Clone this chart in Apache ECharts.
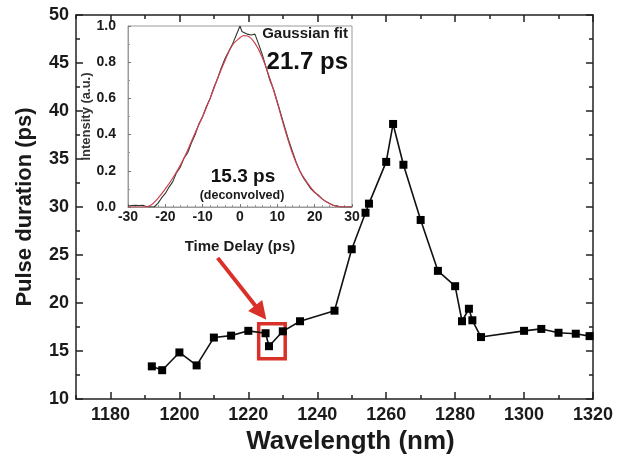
<!DOCTYPE html>
<html>
<head>
<meta charset="utf-8">
<script src="https://cdn.jsdelivr.net/npm/echarts@6/dist/echarts.min.js"></script>
<style>
html,body{margin:0;padding:0;background:#fff;}
#chart{width:621px;height:461px;}
</style>
</head>
<body>
<div id="chart"></div>
<script>
// ---- main data: pulse duration vs wavelength ----
var wavelength = [1192,1195,1200,1205,1210,1215,1220,1225,1226,1230,1235,1245,1250,1254,1255,1260,1262,1265,1270,1275,1280,1282,1284,1285,1287.5,1300,1305,1310,1315,1319];
var duration   = [13.4,13.0,14.85,13.5,16.4,16.6,17.1,16.85,15.5,17.05,18.1,19.2,25.6,29.4,30.35,34.7,38.65,34.4,28.65,23.35,21.75,18.1,19.4,18.2,16.45,17.1,17.3,16.9,16.8,16.55];
var xMajorTicks = [1180,1200,1220,1240,1260,1280,1300,1320];
var xMinorTicks = [1170,1190,1210,1230,1250,1270,1290,1310];

// ---- inset: autocorrelation trace ----
var measT = [-30,-29,-28,-27,-26,-25,-24,-23,-22,-21,-20,-19,-18,-17,-16,-15,-14,-13,-12,-11,-10,-9,-8,-7,-6,-5,-4,-3,-2,-1,0,0.5,1,2,3,4,5,6,7,8,9,10,11,12,13,14,15,16,17,18,19,20,21,22,23,24,25,26,27,28,29,30];
var measI = [0.005,0.008,0.01,0.008,0.01,0.002,0,0,0.02,0.05,0.075,0.11,0.14,0.19,0.22,0.27,0.30,0.355,0.40,0.46,0.50,0.555,0.60,0.66,0.71,0.77,0.82,0.86,0.90,0.95,1.0,0.97,0.96,0.955,0.95,0.955,0.90,0.84,0.77,0.70,0.65,0.58,0.51,0.44,0.37,0.31,0.25,0.20,0.16,0.13,0.10,0.08,0.065,0.045,0.03,0.02,0.01,0.005,0,0,0,0];
var fitT = [-30,-28,-26,-24,-22,-20,-18,-16,-14,-12,-10,-8,-6,-4,-2,0,1,2,4,6,8,10,12,14,16,18,20,22,24,26,28,30];
var fitI = [0,0,0,0.008,0.048,0.10,0.16,0.23,0.315,0.41,0.50,0.60,0.71,0.81,0.895,0.935,0.947,0.945,0.905,0.825,0.71,0.575,0.43,0.30,0.20,0.135,0.082,0.045,0.018,0.004,0,0];

// ---- annotation (data coordinates) ----
var boxCorners = [[1223.0,17.85],[1230.7,14.2]];
var arrowEnds = [[1211.1,24.7],[1223.6,19.0]];

function zip(a,b){var r=[];for(var i=0;i<a.length;i++)r.push([a[i],b[i]]);return r;}

var FF = '"Liberation Sans", Arial, sans-serif';
var AX = '#222';
var RED = '#d9302a';

var chart = echarts.init(document.getElementById('chart'), null, {renderer:'canvas'});
var option = {
  animation:false,
  backgroundColor:'#fff',
  textStyle:{fontFamily:FF},
  grid:[
    {left:76, top:15, width:517, height:384, show:false},
    {left:128, top:26, width:224, height:181, show:true, borderColor:'#9a9a9a', borderWidth:1, backgroundColor:'#fff', z:3},
    {left:76, top:15, width:517, height:384, show:false}
  ],
  xAxis:[
    {gridIndex:0, type:'value', min:1170, max:1320, position:'bottom',
     axisLine:{onZero:false,lineStyle:{color:AX,width:1.5}},
     axisTick:{inside:true,length:7,customValues:xMajorTicks,lineStyle:{color:AX,width:1.5}},
     axisLabel:{customValues:xMajorTicks,fontSize:18,fontWeight:'bold',color:'#1a1a1a',margin:7,fontFamily:FF,
       formatter:function(v){return String(v);}},
     splitLine:{show:false},
     name:'Wavelength (nm)', nameLocation:'middle', nameGap:29,
     nameTextStyle:{fontSize:26,fontWeight:'bold',color:'#1a1a1a',fontFamily:FF,padding:[0,0,0,32]}},
    {gridIndex:0, type:'value', min:1170, max:1320, position:'top',
     axisLine:{onZero:false,lineStyle:{color:AX,width:1.5}},
     axisTick:{inside:true,length:7,customValues:xMajorTicks,lineStyle:{color:AX,width:1.5}},
     axisLabel:{show:false}, splitLine:{show:false}},
    {gridIndex:2, type:'value', min:1170, max:1320, position:'bottom',
     axisLine:{show:false,onZero:false},
     axisTick:{inside:true,length:4,customValues:xMinorTicks,lineStyle:{color:AX,width:1.5}},
     axisLabel:{show:false}, splitLine:{show:false}},
    {gridIndex:2, type:'value', min:1170, max:1320, position:'top',
     axisLine:{show:false,onZero:false},
     axisTick:{inside:true,length:4,customValues:xMinorTicks,lineStyle:{color:AX,width:1.5}},
     axisLabel:{show:false}, splitLine:{show:false}},
    {gridIndex:1, type:'value', min:-30, max:30, interval:10, position:'bottom', z:4,
     axisLine:{onZero:false,lineStyle:{color:'#9a9a9a',width:1}},
     axisTick:{inside:true,length:3,lineStyle:{color:'#777'}},
     minorTick:{show:true,splitNumber:5,length:2,lineStyle:{color:'#999'}},
     axisLabel:{fontSize:14,fontWeight:'bold',color:'#1a1a1a',margin:3,fontFamily:FF},
     splitLine:{show:false},
     name:'Time Delay (ps)', nameLocation:'middle', nameGap:32,
     nameTextStyle:{fontSize:15,fontWeight:'bold',color:'#1a1a1a',fontFamily:FF}}
  ],
  yAxis:[
    {gridIndex:0, type:'value', min:10, max:50, interval:5, position:'left',
     axisLine:{onZero:false,lineStyle:{color:AX,width:1.5}},
     axisTick:{inside:true,length:7,lineStyle:{color:AX,width:1.5}},
     minorTick:{show:true,splitNumber:2,length:4,lineStyle:{color:AX,width:1.5}},
     axisLabel:{fontSize:18,fontWeight:'bold',color:'#1a1a1a',margin:7,fontFamily:FF},
     splitLine:{show:false},
     name:'Pulse duration (ps)', nameLocation:'middle', nameGap:40,
     nameTextStyle:{fontSize:22,fontWeight:'bold',color:'#1a1a1a',fontFamily:FF}},
    {gridIndex:0, type:'value', min:10, max:50, interval:5, position:'right',
     axisLine:{onZero:false,lineStyle:{color:AX,width:1.5}},
     axisTick:{inside:true,length:7,lineStyle:{color:AX,width:1.5}},
     minorTick:{show:true,splitNumber:2,length:4,lineStyle:{color:AX,width:1.5}},
     axisLabel:{show:false}, splitLine:{show:false}},
    {gridIndex:1, type:'value', min:0, max:1, interval:0.2, position:'left', z:4,
     axisLine:{onZero:false,lineStyle:{color:'#9a9a9a',width:1}},
     axisTick:{inside:true,length:3,lineStyle:{color:'#777'}},
     minorTick:{show:true,splitNumber:2,length:2,lineStyle:{color:'#999'}},
     axisLabel:{fontSize:14,fontWeight:'bold',color:'#1a1a1a',margin:12,fontFamily:FF,
       formatter:function(v){return v.toFixed(1);}},
     splitLine:{show:false},
     name:'Intensity (a.u.)', nameLocation:'middle', nameGap:29,
     nameTextStyle:{fontSize:13,fontWeight:'bold',color:'#333',fontFamily:FF}},
    {gridIndex:2, type:'value', min:10, max:50, show:false}
  ],
  series:[
    {type:'line', xAxisIndex:0, yAxisIndex:0, data:zip(wavelength,duration),
     symbol:'rect', symbolSize:8, z:5,
     itemStyle:{color:'#000'}, lineStyle:{color:'#111',width:1.6},
     markArea:{silent:true, label:{show:false},
       itemStyle:{color:'rgba(0,0,0,0)',borderColor:RED,borderWidth:3.5},
       data:[[{coord:boxCorners[0]},{coord:boxCorners[1]}]]},
     markLine:{silent:true, symbol:['none','triangle'], symbolSize:18, label:{show:false},
       lineStyle:{color:RED,width:4,type:'solid'},
       itemStyle:{color:RED},
       data:[[{coord:arrowEnds[0]},{coord:arrowEnds[1]}]]}
    },
    {type:'line', xAxisIndex:4, yAxisIndex:2, data:zip(measT,measI), z:6,
     showSymbol:false, symbol:'none', lineStyle:{color:'#2c3a2c',width:1.1}},
    {type:'line', xAxisIndex:4, yAxisIndex:2, data:zip(fitT,fitI), z:7,
     showSymbol:false, symbol:'none', smooth:0.4, lineStyle:{color:'#cf3f52',width:1.2}}
  ],
  graphic:[
    {type:'text', z:10, style:{text:'Gaussian fit', x:348, y:34, align:'right', verticalAlign:'middle',
      font:'bold 15px '+FF, fill:'#1a1a1a'}},
    {type:'text', z:10, style:{text:'21.7 ps', x:348, y:62, align:'right', verticalAlign:'middle',
      font:'bold 24px '+FF, fill:'#111'}},
    {type:'text', z:10, style:{text:'15.3 ps', x:243, y:177, align:'center', verticalAlign:'middle',
      font:'bold 19px '+FF, fill:'#111'}},
    {type:'text', z:10, style:{text:'(deconvolved)', x:242, y:196, align:'center', verticalAlign:'middle',
      font:'bold 12.5px '+FF, fill:'#1a1a1a'}}
  ]
};
chart.setOption(option);
</script>
</body>
</html>
